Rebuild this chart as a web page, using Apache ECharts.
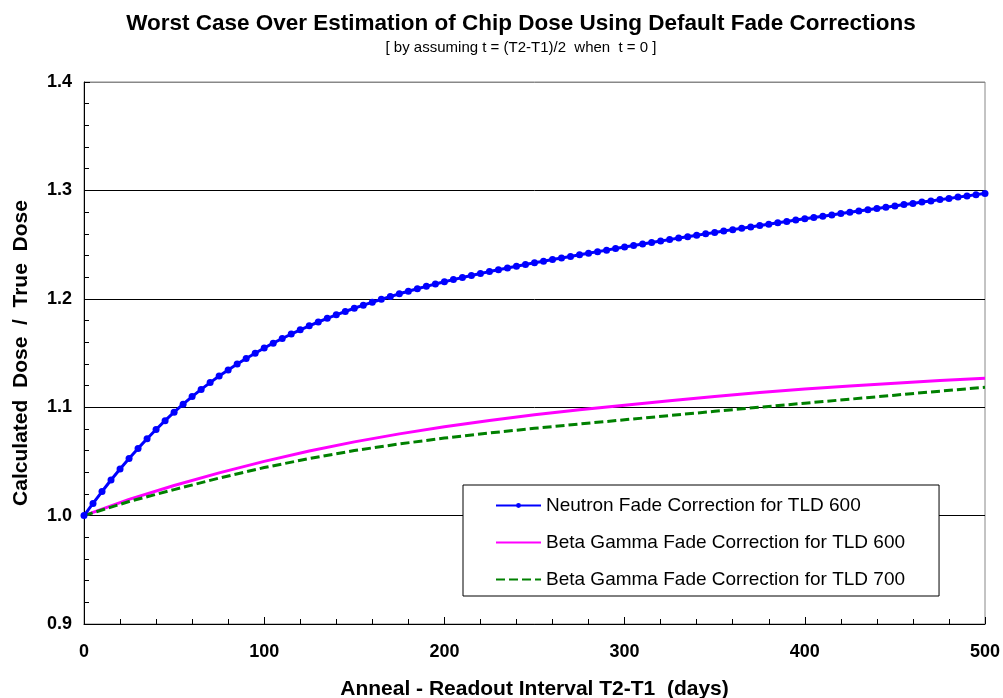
<!DOCTYPE html>
<html>
<head>
<meta charset="utf-8">
<script src="https://cdn.jsdelivr.net/npm/echarts@6/dist/echarts.min.js"></script>
<style>
  html, body { margin: 0; padding: 0; background: #fff; }
  #chart { width: 1003px; height: 698px; }
</style>
</head>
<body>
<div id="chart"></div>
<script>
// Days since the anneal for the neutron curve (one marker every 5 days)
const neutronDays = [
  0, 5, 10, 15, 20, 25, 30, 35, 40, 45, 50, 55, 60, 65, 70, 75, 80, 85, 90, 95,
  100, 105, 110, 115, 120, 125, 130, 135, 140, 145, 150, 155, 160, 165, 170, 175, 180, 185, 190, 195,
  200, 205, 210, 215, 220, 225, 230, 235, 240, 245, 250, 255, 260, 265, 270, 275, 280, 285, 290, 295,
  300, 305, 310, 315, 320, 325, 330, 335, 340, 345, 350, 355, 360, 365, 370, 375, 380, 385, 390, 395,
  400, 405, 410, 415, 420, 425, 430, 435, 440, 445, 450, 455, 460, 465, 470, 475, 480, 485, 490, 495,
  500
];
// Calculated / true dose, neutron fade correction, TLD 600
const neutronRatio = [
  1.0000, 1.0112, 1.0222, 1.0328, 1.0430, 1.0527, 1.0620, 1.0709, 1.0794, 1.0876,
  1.0954, 1.1028, 1.1098, 1.1164, 1.1227, 1.1287, 1.1344, 1.1398, 1.1449, 1.1498,
  1.1546, 1.1591, 1.1634, 1.1675, 1.1714, 1.1751, 1.1786, 1.1820, 1.1852, 1.1883,
  1.1913, 1.1941, 1.1968, 1.1995, 1.2021, 1.2046, 1.2070, 1.2093, 1.2115, 1.2136,
  1.2157, 1.2177, 1.2196, 1.2215, 1.2233, 1.2251, 1.2268, 1.2285, 1.2301, 1.2317,
  1.2332, 1.2347, 1.2362, 1.2377, 1.2391, 1.2406, 1.2420, 1.2435, 1.2449, 1.2464,
  1.2478, 1.2492, 1.2506, 1.2519, 1.2533, 1.2546, 1.2560, 1.2573, 1.2586, 1.2599,
  1.2612, 1.2625, 1.2638, 1.2651, 1.2663, 1.2676, 1.2688, 1.2701, 1.2713, 1.2726,
  1.2738, 1.2750, 1.2762, 1.2774, 1.2786, 1.2798, 1.2810, 1.2822, 1.2834, 1.2845,
  1.2857, 1.2869, 1.2880, 1.2892, 1.2903, 1.2915, 1.2926, 1.2938, 1.2949, 1.2961,
  1.2972
];
// Days for the beta-gamma curves
const bgDays = [0, 25, 50, 75, 100, 125, 150, 175, 200, 225, 250, 275, 300, 325, 350, 375, 400, 425, 450, 475, 500];
// Beta gamma fade correction, TLD 600
const bg600Ratio = [
  1.0000, 1.0150, 1.0278, 1.0394, 1.0500, 1.0596, 1.0680, 1.0754, 1.0820, 1.0878,
  1.0930, 1.0976, 1.1019, 1.1060, 1.1099, 1.1135, 1.1167, 1.1196, 1.1222, 1.1246, 1.1268
];
// Beta gamma fade correction, TLD 700
const bg700Ratio = [
  1.0000, 1.0130, 1.0240, 1.0346, 1.0443, 1.0526, 1.0600, 1.0661, 1.0715, 1.0762,
  1.0805, 1.0845, 1.0884, 1.0923, 1.0962, 1.1000, 1.1037, 1.1074, 1.1111, 1.1148, 1.1184
];
const seriesNames = [
  'Neutron Fade Correction for TLD 600',
  'Beta Gamma Fade Correction for TLD 600',
  'Beta Gamma Fade Correction for TLD 700'
];

const pair = (xs, ys) => xs.map((x, i) => [x, ys[i]]);
const FONT = '"Liberation Sans", Arial, Helvetica, sans-serif';

const chart = echarts.init(document.getElementById('chart'), null, { renderer: 'canvas' });
chart.setOption({
  animation: false,
  backgroundColor: '#fff',
  textStyle: { fontFamily: FONT, color: '#000' },
  title: {
    text: 'Worst Case Over Estimation of Chip Dose Using Default Fade Corrections',
    subtext: '[ by assuming t = (T2-T1)/2  when  t = 0 ]',
    left: 516,
    textAlign: 'center',
    top: 7,
    itemGap: 5,
    textStyle: { fontFamily: FONT, fontSize: 22.5, fontWeight: 'bold', color: '#000' },
    subtextStyle: { fontFamily: FONT, fontSize: 15, color: '#000' }
  },
  grid: {
    left: 84, right: 18, top: 82, bottom: 74,
    outerBoundsMode: 'none',
    containLabel: false,
    show: true, borderColor: '#888', borderWidth: 1, backgroundColor: 'transparent'
  },
  legend: {
    orient: 'vertical',
    left: 463,
    top: 485,
    padding: [11, 34, 7, 32],
    itemGap: 18,
    itemWidth: 45,
    itemHeight: 6,
    backgroundColor: '#fff',
    borderColor: '#000',
    borderWidth: 1,
    borderRadius: 0,
    textStyle: { fontFamily: FONT, fontSize: 19, color: '#000' },
    data: [
      { name: seriesNames[0] },
      { name: seriesNames[1], itemStyle: { opacity: 0 } },
      { name: seriesNames[2], itemStyle: { opacity: 0 } }
    ]
  },
  xAxis: {
    type: 'value',
    min: 0, max: 500, interval: 100,
    name: 'Anneal - Readout Interval T2-T1  (days)',
    nameLocation: 'middle',
    nameGap: 55,
    nameTextStyle: { fontFamily: FONT, fontSize: 21, fontWeight: 'bold', color: '#000' },
    axisLine: { show: true, onZero: false, lineStyle: { color: '#000', width: 1 } },
    axisTick: { show: true, inside: true, length: 7, lineStyle: { color: '#000' } },
    minorTick: { show: true, splitNumber: 5, length: 5, lineStyle: { color: '#000' } },
    axisLabel: { margin: 19, fontFamily: FONT, fontSize: 18, fontWeight: 'bold', color: '#000' },
    splitLine: { show: false }
  },
  yAxis: {
    type: 'value',
    min: 0.9, max: 1.4, interval: 0.1,
    name: 'Calculated  Dose  /  True  Dose',
    nameLocation: 'middle',
    nameGap: 52,
    nameTextStyle: { fontFamily: FONT, fontSize: 21, fontWeight: 'bold', color: '#000' },
    axisLine: { show: true, onZero: false, lineStyle: { color: '#000', width: 1 } },
    axisTick: { show: true, inside: true, length: 6, lineStyle: { color: '#000' } },
    minorTick: { show: true, splitNumber: 5, length: 5, lineStyle: { color: '#000' } },
    axisLabel: {
      margin: 12, fontFamily: FONT, fontSize: 18, fontWeight: 'bold', color: '#000',
      formatter: v => v.toFixed(1)
    },
    splitLine: {
      show: true,
      lineStyle: { color: ['#000', '#000', '#000', '#000', '#000', '#888'], width: 1 }
    }
  },
  series: [
    {
      name: seriesNames[0],
      type: 'line',
      data: pair(neutronDays, neutronRatio),
      symbol: 'circle',
      symbolSize: 7,
      showSymbol: true,
      lineStyle: { color: '#0000ff', width: 3 },
      itemStyle: { color: '#0000ff' },
      z: 4
    },
    {
      name: seriesNames[1],
      type: 'line',
      data: pair(bgDays, bg600Ratio),
      symbol: 'none',
      lineStyle: { color: '#ff00ff', width: 3 },
      itemStyle: { color: '#ff00ff' },
      z: 2
    },
    {
      name: seriesNames[2],
      type: 'line',
      data: pair(bgDays, bg700Ratio),
      symbol: 'none',
      lineStyle: { color: '#008000', width: 3, type: [9, 4] },
      itemStyle: { color: '#008000' },
      z: 3
    }
  ]
});
</script>
</body>
</html>
